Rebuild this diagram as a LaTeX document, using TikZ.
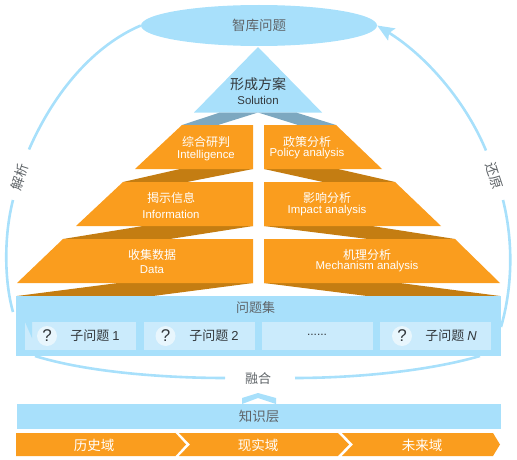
\documentclass[tikz,border=0pt]{standalone}
\usepackage{fontspec}
\setmainfont{Liberation Sans}
\newfontfamily\cjk{Noto Sans CJK SC}
\usetikzlibrary{arrows.meta,shapes.geometric}
\definecolor{skycol}{HTML}{A8E0FB}
\definecolor{palecol}{HTML}{CBEBFC}
\definecolor{dotcol}{HTML}{E8F6FD}
\definecolor{orangecol}{HTML}{FA9D1E}
\definecolor{browncol}{HTML}{C47D12}
\definecolor{steelcol}{HTML}{7DA8C0}
\definecolor{greycol}{HTML}{5F6468}
\definecolor{inkcol}{HTML}{33383C}

\begin{document}
\begin{tikzpicture}[
  x=1pt,y=-1pt,
  inner sep=0pt,
  orange/.style={fill=orangecol},
  brown/.style={fill=browncol},
  steel/.style={fill=steelcol},
  sky/.style={fill=skycol},
  subbox/.style={fill=palecol,minimum width=111pt,minimum height=28pt},
  dot/.style={circle,fill=dotcol,minimum size=20pt,font=\fontsize{17}{17}\selectfont,text=inkcol},
  arc/.style={draw=skycol,line width=2.6pt},
  cnwhite/.style={text=white,font=\cjk\fontsize{12}{14}\selectfont},
  enwhite/.style={text=white,font=\fontsize{11.4}{13}\selectfont},
  cngrey/.style={text=greycol,font=\cjk\fontsize{13.5}{15}\selectfont},
  cnink/.style={text=inkcol,font=\cjk\fontsize{13}{14}\selectfont},
]
\useasboundingbox (0,0) rectangle (517,460);

% top of the pyramid
\node[ellipse,sky,minimum width=236pt,minimum height=41pt,cngrey] (topic) at (259,25.5) {智库问题};
\fill[sky] (258,47) -- (322,112.5) -- (194,112.5) -- cycle;
\node[cnink,font=\cjk\fontsize{14}{15}\selectfont] (solcn) at (258,84) {形成方案};
\node[text=inkcol,font=\fontsize{11.4}{13}\selectfont] (solen) at (258,100) {Solution};

% shadows between the levels
\fill[steel] (182,125) -- (220,112.5) -- (258,112.5) -- (218,125) -- cycle;
\fill[steel] (258,112.5) -- (296,112.5) -- (336,125) -- (298,125) -- cycle;
\fill[brown] (123,182) -- (180,169) -- (253,169) -- (187,182) -- cycle;
\fill[brown] (264,169) -- (338,169) -- (395,182) -- (323,182) -- cycle;
\fill[brown] (63,239) -- (143,226) -- (253,226) -- (170,239) -- cycle;
\fill[brown] (264,226) -- (372,226) -- (455,239) -- (368,239) -- cycle;
\fill[brown] (17,296) -- (118,283) -- (253,283) -- (153,296) -- cycle;
\fill[brown] (264,283) -- (400,283) -- (500,296) -- (367,296) -- cycle;

% levels
\fill[orange] (182,125) -- (253,125) -- (253,169) -- (135,169) -- cycle;
\fill[orange] (264,125) -- (336,125) -- (382,169) -- (264,169) -- cycle;
\fill[orange] (123,182) -- (253,182) -- (253,226) -- (76,226) -- cycle;
\fill[orange] (264,182) -- (395,182) -- (441,226) -- (264,226) -- cycle;
\fill[orange] (63,239) -- (253,239) -- (253,283) -- (17,283) -- cycle;
\fill[orange] (264,239) -- (455,239) -- (500,283) -- (264,283) -- cycle;

\node[cnwhite] (intcn) at (206,142) {综合研判};
\node[enwhite] (inten) at (206,156) {Intelligence};
\node[cnwhite] (polcn) at (307,142) {政策分析};
\node[enwhite] (polen) at (307,154) {Policy analysis};
\node[cnwhite] (infcn) at (171,198) {揭示信息};
\node[enwhite] (infen) at (171,214) {Information};
\node[cnwhite] (impcn) at (327,198) {影响分析};
\node[enwhite] (impen) at (327,211) {Impact analysis};
\node[cnwhite] (datcn) at (152,255) {收集数据};
\node[enwhite] (daten) at (152,270) {Data};
\node[cnwhite] (mechcn) at (367,255) {机理分析};
\node[enwhite] (mechen) at (367,267) {Mechanism analysis};

% side arcs
\node[cngrey,rotate=72] (parse) at (20,177) {解析};
\node[cngrey,rotate=-72] (restore) at (494,176) {还原};
\coordinate (ltop) at (29,149.5);
\coordinate (lmid) at (13,200);
\coordinate (lend) at (13,312);
\coordinate (rtop) at (486,150.5);
\coordinate (rmid) at (503,200);
\coordinate (rend) at (501,327);
\draw[arc] (topic.west) .. controls (95,45) and (55,90) .. (ltop);
\draw[arc] (lmid) .. controls (4,235) and (4,280) .. (lend);
\draw[arc,-{Stealth[length=17pt,width=14pt,inset=3pt]}] (rtop) .. controls (465,100) and (425,55) .. (topic.east);
\draw[arc] (rmid) .. controls (513,240) and (513,285) .. (rend);

% question set
\node[sky,minimum width=485pt,minimum height=60pt] (qset) at (258.5,326) {};
\node[cngrey,font=\cjk\fontsize{13}{15}\selectfont] (qsetlab) at (255.5,308) {问题集};
\node[subbox] (sub1) at (80.5,336) {};
\node[subbox] (sub2) at (199.5,336) {};
\node[subbox] (sub3) at (317.5,336) {};
\node[subbox] (sub4) at (435.5,336) {};
\fill[sky] (25,322) -- (32,322) -- (32,338) -- cycle;
\node[dot] (q1) at (47,336) {?};
\node[dot] (q2) at (165.5,336) {?};
\node[dot] (q4) at (402,336) {?};
\node[cnink] (sub1lab) at (95,336) {子问题 {\fontfamily{\rmdefault}\selectfont 1}};
\node[cnink] (sub2lab) at (214,336) {子问题 {\fontfamily{\rmdefault}\selectfont 2}};
\node[text=inkcol,font=\fontsize{12}{14}\selectfont] (sub3lab) at (317,335) {......};
\node[cnink] (sub4lab) at (451,336) {子问题 {\fontfamily{\rmdefault}\selectfont\itshape N}};

% merge
\node[cngrey,font=\cjk\fontsize{13}{15}\selectfont] (merge) at (258,379) {融合};
\coordinate (mleft) at (225,378);
\coordinate (mright) at (295,378);
\coordinate (qleft) at (35,356);
\coordinate (qright) at (480,356);
\draw[arc] (qleft) .. controls (90,373) and (170,378) .. (mleft);
\draw[arc] (mright) .. controls (350,378) and (425,372) .. (qright);
\fill[sky] (242,404) -- (242,398) -- (258,393) -- (276,398) -- (276,404) -- (258,398) -- cycle;

% knowledge layer
\node[sky,minimum width=484pt,minimum height=25pt,cngrey] (know) at (259,416.5) {知识层};
\fill[orange] (16,433) -- (175.5,433) -- (186,444.5) -- (175.5,456) -- (16,456) -- cycle;
\fill[orange] (179,433) -- (338,433) -- (349,444.5) -- (338,456) -- (179,456) -- (190,444.5) -- cycle;
\fill[orange] (342,433) -- (493,433) -- (500,444.5) -- (493,456) -- (342,456) -- (353,444.5) -- cycle;
\node[cnwhite,font=\cjk\fontsize{13.5}{15}\selectfont] (hist) at (94,445) {历史域};
\node[cnwhite,font=\cjk\fontsize{13.5}{15}\selectfont] (real) at (258,445) {现实域};
\node[cnwhite,font=\cjk\fontsize{13.5}{15}\selectfont] (futr) at (422,445) {未来域};
\end{tikzpicture}
\end{document}
